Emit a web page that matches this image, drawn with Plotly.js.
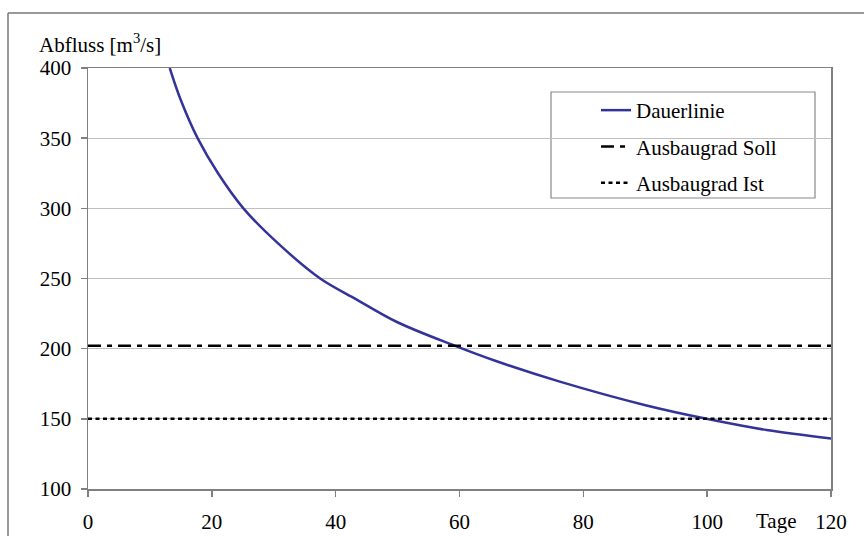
<!DOCTYPE html>
<html>
<head>
<meta charset="utf-8">
<script src="https://cdn.plot.ly/plotly-3.0.1.min.js"></script>
<style>html,body{margin:0;padding:0;background:#fff;}#chart{width:864px;height:536px;}</style>
</head>
<body>
<div id="chart"></div>
<script>
// Data
const tage = [13.2, 15.0, 17.7, 21.0, 25.1, 30.7, 37.5, 43.4, 49.9, 59.0, 66.0, 76.2, 90.2, 99.9, 109.6, 120];
const abfluss = [400, 377, 350, 325, 300, 275, 250, 235, 219, 202.5, 191, 176.5, 159.5, 150, 142, 136];
const sollValue = 202;
const istValue = 150;
const xRange = [0, 120];
const seriesNames = ["Dauerlinie", "Ausbaugrad Soll", "Ausbaugrad Ist"];
const yTitle = "Abfluss [m<sup>3</sup>/s]";
const xTitle = "Tage";

const font = "'Liberation Serif', 'Times New Roman', Times, serif";

const traces = [
  {x: tage, y: abfluss, name: seriesNames[0], mode: "lines", legendgroup: "a",
   line: {color: "#333399", width: 2.5, shape: "spline", smoothing: 1}},
  {x: xRange, y: [sollValue, sollValue], name: seriesNames[1], mode: "lines", legendgroup: "b",
   line: {color: "#000", width: 2.5, dash: "13px,6px,5px,6px"}},
  {x: xRange, y: [istValue, istValue], name: seriesNames[2], mode: "lines", legendgroup: "c",
   line: {color: "#000", width: 2.5, dash: "4px,3.5px"}}
];

const layout = {
  width: 864, height: 536,
  margin: {l: 88, r: 33, t: 68, b: 47},
  paper_bgcolor: "#fff", plot_bgcolor: "#fff",
  font: {family: font, size: 21, color: "#000"},
  showlegend: true,
  legend: {x: (596-88)/743, y: (489-90)/421, xanchor: "left", yanchor: "top",
           bgcolor: "rgba(0,0,0,0)", borderwidth: 0, tracegroupgap: 6,
           font: {family: font, size: 21, color: "#000"}},
  xaxis: {range: xRange, dtick: 20, tick0: 0, showgrid: false, zeroline: false,
          showline: true, linecolor: "#808080", linewidth: 1.5, mirror: true,
          ticks: "outside", ticklen: 6, tickcolor: "#808080", tickwidth: 1.5,
          ticklabelstandoff: 7,
          tickfont: {family: font, size: 21}},
  yaxis: {range: [100, 400], dtick: 50, tick0: 100, showgrid: true, gridcolor: "#c0c0c0", gridwidth: 1.2,
          zeroline: false, showline: true, linecolor: "#808080", linewidth: 1.5, mirror: true,
          ticks: "outside", ticklen: 6, tickcolor: "#808080", tickwidth: 1.5,
          ticklabelstandoff: 5,
          tickfont: {family: font, size: 21}},
  shapes: [
    {type: "rect", xref: "paper", yref: "paper", x0: (551-88)/743, x1: (815-88)/743,
     y0: (489-198)/421, y1: (489-92)/421, line: {color: "#888", width: 1.2}, fillcolor: "#fff", layer: "below"},
    {type: "line", xref: "paper", yref: "paper", x0: (8-88)/743, x1: (866-88)/743,
     y0: (489-13)/421, y1: (489-13)/421, line: {color: "#777", width: 1.5}},
    {type: "line", xref: "paper", yref: "paper", x0: (8-88)/743, x1: (8-88)/743,
     y0: (489-13)/421, y1: (489-540)/421, line: {color: "#777", width: 1.5}}
  ],
  annotations: [
    {text: yTitle, xref: "paper", yref: "paper", x: (37-88)/743, y: (489-43)/421,
     xanchor: "left", yanchor: "middle", showarrow: false, font: {family: font, size: 21}},
    {text: xTitle, xref: "paper", yref: "paper", x: (776-88)/743, y: (489-521)/421,
     xanchor: "center", yanchor: "middle", showarrow: false, font: {family: font, size: 21}}
  ]
};

Plotly.newPlot("chart", traces, layout, {displayModeBar: false, staticPlot: true});
</script>
</body>
</html>
